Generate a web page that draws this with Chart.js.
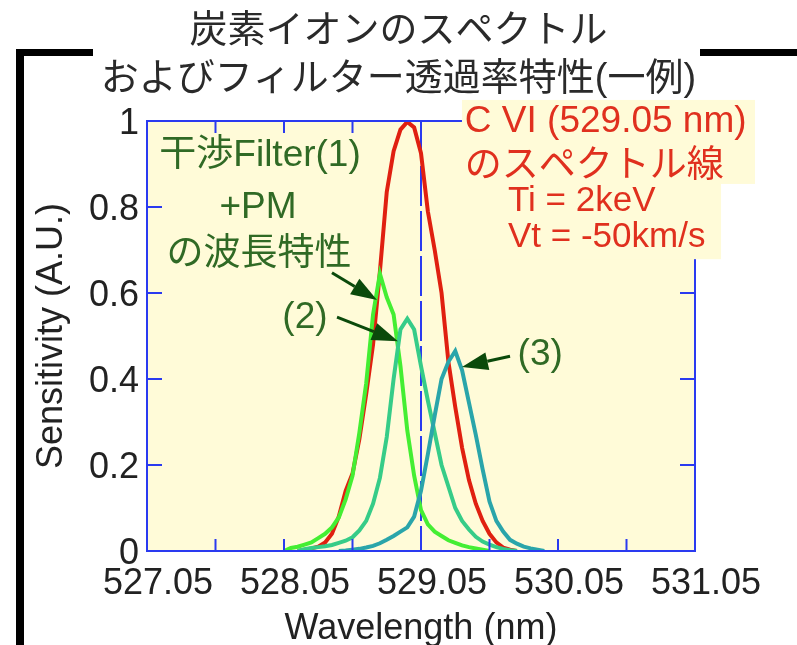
<!DOCTYPE html>
<html>
<head>
<meta charset="utf-8">
<script src="https://cdn.jsdelivr.net/npm/chart.js@4.4.0/dist/chart.umd.min.js"></script>
<style>
  html, body { margin: 0; padding: 0; background: #ffffff; }
  canvas { display: block; }
</style>
</head>
<body>
<canvas id="spectrumChart" width="797" height="645"></canvas>
<script>
// wavelength grid (nm) shared by all curves
const wavelengths = [
  528.05, 528.10, 528.15, 528.20, 528.25, 528.30, 528.35, 528.40, 528.45, 528.50,
  528.55, 528.60, 528.65, 528.70, 528.75, 528.80, 528.85, 528.90, 528.95, 529.00,
  529.05, 529.10, 529.15, 529.20, 529.25, 529.30, 529.35, 529.40, 529.45, 529.50,
  529.55, 529.60, 529.65, 529.70, 529.75, 529.80, 529.85, 529.90, 529.95
];

// C VI spectral line (red)
const cviLine = [
  null, null, 0.0, 0.003, 0.006, 0.01, 0.02, 0.04, 0.08, 0.14,
  0.18, 0.26, 0.365, 0.48, 0.65, 0.835, 0.93, 0.98, 0.998, 0.985,
  0.925, 0.79, 0.70, 0.60, 0.44, 0.335, 0.24, 0.165, 0.11, 0.07,
  0.04, 0.02, 0.008, 0.003, 0.0, null, null, null, null
];

// filter (1) + PM
const filter1 = [
  0.0, 0.007, 0.01, 0.015, 0.02, 0.03, 0.04, 0.055, 0.078, 0.12,
  0.175, 0.275, 0.39, 0.55, 0.645, 0.59, 0.55, 0.43, 0.28, 0.175,
  0.095, 0.062, 0.045, 0.035, 0.025, 0.019, 0.013, 0.009, 0.006, 0.003,
  0.0, null, null, null, null, null, null, null, null
];

// filter (2)
const filter2 = [
  null, null, 0.0, 0.004, 0.007, 0.009, 0.011, 0.014, 0.019, 0.024,
  0.032, 0.048, 0.07, 0.11, 0.17, 0.265, 0.40, 0.515, 0.54, 0.515,
  0.43, 0.35, 0.275, 0.2, 0.15, 0.1, 0.07, 0.05, 0.033, 0.022,
  0.015, 0.009, 0.005, 0.002, 0.0, null, null, null, null
];

// filter (3)
const filter3 = [
  null, null, null, null, null, null, null, null, 0.0, 0.001,
  0.003, 0.005, 0.008, 0.012, 0.018, 0.026, 0.035, 0.045, 0.055, 0.08,
  0.14, 0.225, 0.315, 0.40, 0.44, 0.465, 0.42, 0.345, 0.27, 0.19,
  0.115, 0.07, 0.045, 0.026, 0.017, 0.01, 0.006, 0.003, 0.0
];

const xTickValues = [527.05, 527.55, 528.05, 528.55, 529.05, 529.55, 530.05, 530.55, 531.05];
const xTickLabels = ['527.05', '', '528.05', '', '529.05', '', '530.05', '', '531.05'];
const centerWavelength = 529.05;

const titleLines = ['炭素イオンのスペクトル', 'およびフィルター透過率特性(一例)'];

// annotations, placed in data units
const greenNotes = [
  { text: '干渉Filter(1)', x: 527.875, y: 0.919 },
  { text: '+PM', x: 527.86, y: 0.798 },
  { text: 'の波長特性', x: 527.867, y: 0.688 },
  { text: '(2)', x: 528.203, y: 0.542 },
  { text: '(3)', x: 529.92, y: 0.456 }
];
const arrows = [
  { from: [528.40, 0.647], to: [528.729, 0.584] },
  { from: [528.437, 0.544], to: [528.882, 0.488] },
  { from: [529.70, 0.453], to: [529.349, 0.428] }
];
const redNotes = [
  { text: 'C VI (529.05 nm)', x: 529.37, y: 0.998 },
  { text: 'のスペクトル線', x: 529.37, y: 0.893 },
  { text: 'Ti = 2keV', x: 529.685, y: 0.812 },
  { text: 'Vt = -50km/s', x: 529.685, y: 0.730 }
];
const redBoxes = [
  { x0: 529.349, x1: 531.488, y0: 1.049, y1: 0.856 },
  { x0: 529.349, x1: 531.24, y0: 0.856, y1: 0.681 }
];

const FONT = '"Liberation Sans", "Noto Sans CJK JP", sans-serif';
const AXIS_BLUE = '#2a3af0';
const PLOT_BG = '#fffbd8';

function toPoints(values) {
  return wavelengths.map((w, i) => ({ x: w, y: values[i] }));
}

const decorPlugin = {
  id: 'decor',
  beforeDatasetsDraw(chart) {
    const { ctx, chartArea: a, scales: { x } } = chart;
    ctx.save();
    ctx.fillStyle = PLOT_BG;
    ctx.fillRect(a.left, a.top, a.right - a.left, a.bottom - a.top);
    const cx = x.getPixelForValue(centerWavelength);
    ctx.strokeStyle = AXIS_BLUE;
    ctx.lineWidth = 2;
    ctx.setLineDash([40, 5]);
    ctx.beginPath();
    ctx.moveTo(cx, a.top);
    ctx.lineTo(cx, a.bottom);
    ctx.stroke();
    ctx.restore();
  },
  afterDatasetsDraw(chart) {
    const { ctx, chartArea: a, scales: { x, y } } = chart;
    ctx.save();

    // frame + inward ticks
    ctx.strokeStyle = AXIS_BLUE;
    ctx.lineWidth = 2;
    ctx.strokeRect(a.left, a.top, a.right - a.left, a.bottom - a.top);
    ctx.beginPath();
    xTickValues.forEach(v => {
      const px = x.getPixelForValue(v);
      ctx.moveTo(px, a.bottom); ctx.lineTo(px, a.bottom - 12);
      ctx.moveTo(px, a.top); ctx.lineTo(px, a.top + 12);
    });
    y.ticks.forEach(t => {
      const py = y.getPixelForValue(t.value);
      ctx.moveTo(a.left, py); ctx.lineTo(a.left + 15, py);
      ctx.moveTo(a.right, py); ctx.lineTo(a.right - 15, py);
    });
    ctx.stroke();

    // arrows
    ctx.strokeStyle = '#0b4a0b';
    ctx.fillStyle = '#0b4a0b';
    ctx.lineWidth = 3;
    arrows.forEach(ar => {
      const x0 = x.getPixelForValue(ar.from[0]), y0 = y.getPixelForValue(ar.from[1]);
      const x1 = x.getPixelForValue(ar.to[0]), y1 = y.getPixelForValue(ar.to[1]);
      const ang = Math.atan2(y1 - y0, x1 - x0);
      const len = 26, half = 9;
      const bx = x1 - Math.cos(ang) * len, by = y1 - Math.sin(ang) * len;
      ctx.beginPath();
      ctx.moveTo(x0, y0);
      ctx.lineTo(bx, by);
      ctx.stroke();
      ctx.beginPath();
      ctx.moveTo(x1, y1);
      ctx.lineTo(bx + Math.sin(ang) * half, by - Math.cos(ang) * half);
      ctx.lineTo(bx - Math.sin(ang) * half, by + Math.cos(ang) * half);
      ctx.closePath();
      ctx.fill();
    });

    // green notes
    ctx.font = '37px ' + FONT;
    ctx.textBaseline = 'middle';
    ctx.textAlign = 'center';
    ctx.fillStyle = '#306a25';
    greenNotes.forEach(n => {
      ctx.fillText(n.text, x.getPixelForValue(n.x), y.getPixelForValue(n.y));
    });

    // red label box
    ctx.fillStyle = PLOT_BG;
    redBoxes.forEach(b => {
      const x0 = x.getPixelForValue(b.x0), x1 = x.getPixelForValue(b.x1);
      const y0 = y.getPixelForValue(b.y0), y1 = y.getPixelForValue(b.y1);
      ctx.fillRect(x0, y0, x1 - x0, y1 - y0 + 1);
    });
    ctx.fillStyle = '#e0301e';
    ctx.textAlign = 'left';
    redNotes.forEach((n, i) => {
      ctx.font = (i < 2 ? '37px ' : '35px ') + FONT;
      ctx.fillText(n.text, x.getPixelForValue(n.x), y.getPixelForValue(n.y));
    });
    ctx.restore();
  },
  afterDraw(chart) {
    // black bracket around the figure
    const { ctx } = chart;
    ctx.save();
    ctx.fillStyle = '#000000';
    ctx.fillRect(16, 49, 8, 596);
    ctx.fillRect(16, 49, 77, 7);
    ctx.fillRect(700, 49, 97, 7);
    ctx.restore();
  }
};

const ctx = document.getElementById('spectrumChart').getContext('2d');

new Chart(ctx, {
  type: 'line',
  data: {
    datasets: [
      { label: 'filter3', data: toPoints(filter3), borderColor: '#2aa5aa' },
      { label: 'filter2', data: toPoints(filter2), borderColor: '#36cc88' },
      { label: 'filter1', data: toPoints(filter1), borderColor: '#44ee33' },
      { label: 'C VI', data: toPoints(cviLine), borderColor: '#e02010' }
    ]
  },
  options: {
    responsive: false,
    animation: false,
    events: [],
    elements: {
      point: { radius: 0 },
      line: { borderWidth: 4, tension: 0, fill: false }
    },
    layout: { padding: 0 },
    plugins: {
      legend: { display: false },
      tooltip: { enabled: false },
      title: {
        display: true,
        text: titleLines,
        color: '#2a2a2a',
        font: { family: FONT, size: 38, weight: 'normal', lineHeight: 1.25 },
        padding: { top: 8, bottom: 18 }
      }
    },
    scales: {
      x: {
        type: 'linear',
        min: 527.05,
        max: 531.05,
        afterBuildTicks: s => { s.ticks = xTickValues.map(v => ({ value: v })); },
        afterFit: s => { s.height = 94; },
        grid: { display: false, drawTicks: false },
        border: { display: false },
        ticks: {
          autoSkip: false,
          maxRotation: 0,
          padding: 11,
          labelOffset: 11,
          color: '#222222',
          font: { family: FONT, size: 36 },
          callback: (v, i) => xTickLabels[i]
        },
        title: {
          display: true,
          text: 'Wavelength (nm)',
          color: '#222222',
          font: { family: FONT, size: 36, lineHeight: 0.8 },
          padding: { top: 0, bottom: 2 }
        }
      },
      y: {
        min: 0,
        max: 1,
        afterFit: s => { s.width = 147; },
        grid: { display: false, drawTicks: false },
        border: { display: false },
        ticks: {
          stepSize: 0.2,
          padding: 8,
          labelOffset: 3,
          color: '#222222',
          font: { family: FONT, size: 36 },
          callback: v => String(Number(v.toFixed(1)))
        },
        title: {
          display: true,
          text: 'Sensitivity (A.U.)',
          color: '#222222',
          font: { family: FONT, size: 36, lineHeight: 1.2 },
          padding: { top: 30, bottom: 0 }
        }
      },
      yRight: {
        position: 'right',
        min: 0,
        max: 1,
        afterFit: s => { s.width = 102; },
        grid: { display: false, drawTicks: false },
        border: { display: false },
        ticks: { display: false }
      }
    }
  },
  plugins: [decorPlugin]
});
</script>
</body>
</html>
